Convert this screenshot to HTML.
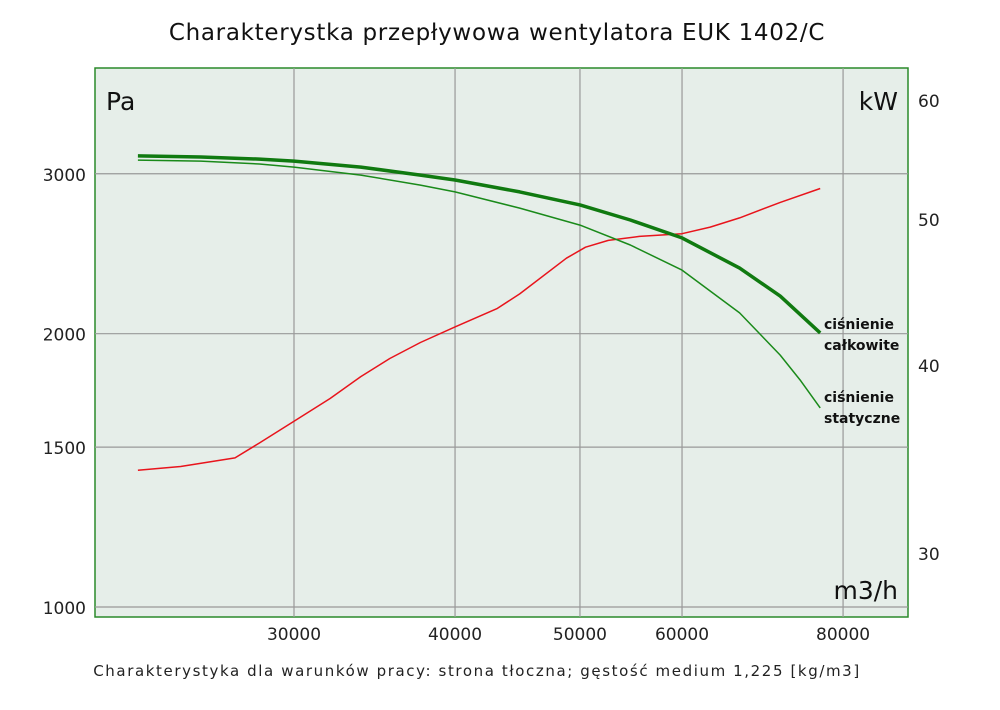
<!DOCTYPE html>
<html><head><meta charset="utf-8"><style>
body{margin:0;background:#fff;width:1000px;height:706px;overflow:hidden;font-family:"DejaVu Sans","Liberation Sans",sans-serif}
</style></head><body>
<svg width="1000" height="706">
<text x="497" y="40" text-anchor="middle" font-size="23" fill="#111" letter-spacing="0.7">Charakterystka przepływowa wentylatora EUK 1402/C</text>
<rect x="95" y="68" width="813" height="549" fill="#e6eee9" stroke="#2a8a2a" stroke-width="1.5"/>
<g id="grid"></g>
<g id="series"></g>
<g id="ticks" font-size="17" fill="#222"></g>
<text x="106" y="110" font-size="25" fill="#111">Pa</text>
<text x="898" y="110" text-anchor="end" font-size="25" fill="#111">kW</text>
<text x="898" y="599" text-anchor="end" font-size="25" fill="#111">m3/h</text>
<g font-size="14" font-weight="bold" fill="#111">
<text x="824" y="329"><tspan x="824">ciśnienie</tspan><tspan x="824" dy="21">całkowite</tspan></text>
<text x="824" y="402"><tspan x="824">ciśnienie</tspan><tspan x="824" dy="21">statyczne</tspan></text>
</g>
<text x="477" y="676" text-anchor="middle" font-size="15" fill="#222" letter-spacing="1.6">Charakterystyka dla warunków pracy: strona tłoczna; gęstość medium 1,225 [kg/m3]</text>
</svg>
<script>
const xTicks=[30000,40000,50000,60000,80000];
const yTicks=[1000,1500,2000,3000];
const kwTicks=[30,40,50,60];
const qTotal=[22700,25400,28200,30000,33800,37600,40000,44900,50000,54700,60000,66500,71500,76800];
const pTotal=[3139,3130,3114,3098,3051,2990,2953,2865,2772,2668,2550,2362,2200,2004];
const qStatic=[22700,25400,28200,30000,33800,37600,40000,44900,50000,54700,60000,66500,71500,74100,76800];
const pStatic=[3106,3098,3075,3051,2990,2915,2865,2750,2634,2504,2350,2108,1894,1778,1657];
const qPower=[22700,24500,27000,28200,30000,32000,33800,35600,37600,40000,43100,44900,48800,50500,52600,55600,60000,63100,66500,71500,76800];
const kwPower=[34.05,34.25,34.7,35.5,36.7,38.0,39.3,40.4,41.4,42.4,43.6,44.6,47.1,47.9,48.4,48.7,48.9,49.4,50.1,51.3,52.4];
const X=q=>294+1289*Math.log10(q/30000);
const Y=p=>607-908*Math.log10(p/1000);
const YK=k=>100+1505*Math.log10(60/k);
const NS='http://www.w3.org/2000/svg';
function mk(t,a,parent){const e=document.createElementNS(NS,t);for(const k in a)e.setAttribute(k,a[k]);document.getElementById(parent).appendChild(e);return e;}
xTicks.forEach(v=>{
 const l=mk('line',{x1:X(v),x2:X(v),y1:68,y2:617,stroke:'#999','stroke-width':1.2},'grid');
 
 
 const t=mk('text',{x:X(v),y:640,'text-anchor':'middle'},'ticks');t.textContent=v;
 
 
});
yTicks.forEach(v=>{
 const l=mk('line',{x1:95,x2:908,y1:Y(v),y2:Y(v),stroke:'#999','stroke-width':1.2},'grid');
 
 
 const t=mk('text',{x:86,y:Y(v)+7,'text-anchor':'end'},'ticks');t.textContent=v;
 
 
});
kwTicks.forEach(v=>{
 const t=mk('text',{x:918,y:YK(v)+7},'ticks');t.textContent=v;
 
 
});
function line(qs,vs,f,color,w,name){
 const pts=qs.map((q,i)=>X(q).toFixed(1)+','+f(vs[i]).toFixed(1)).join(' ');
 const e=mk('polyline',{points:pts,fill:'none',stroke:color,'stroke-width':w,'stroke-linejoin':'round'},'series');
 
 
}
line(qPower,kwPower,YK,'#e8141c',1.5,'power-line');
line(qStatic,pStatic,Y,'#1a8a1a',1.5,'static-pressure-line');
line(qTotal,pTotal,Y,'#107a10',3.5,'total-pressure-line');
</script>
</body></html>
